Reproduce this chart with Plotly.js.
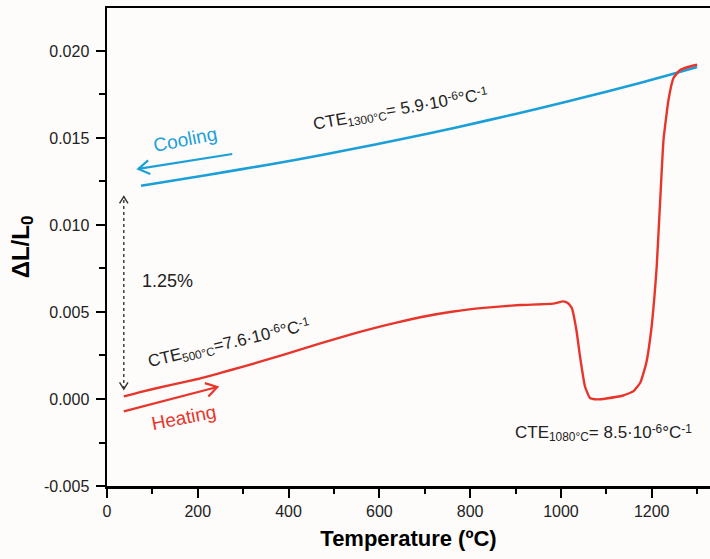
<!DOCTYPE html>
<html>
<head>
<meta charset="utf-8">
<script src="https://cdn.plot.ly/plotly-3.0.1.min.js"></script>
<style>html,body{margin:0;padding:0;background:#fdfcfa;}#chart{width:710px;height:559px;}</style>
</head>
<body>
<div id="chart"></div>
<script>
// ---- data ----
const heatingT = [37, 73, 139, 205, 250, 300, 360, 420, 470, 530, 580, 640, 690, 763, 830, 910, 983, 1005, 1015, 1024, 1034, 1042, 1053, 1064, 1080, 1100, 1137, 1160, 1175, 1188, 1199, 1206, 1211, 1221, 1226, 1237, 1248, 1262, 1280, 1300];
const heatingDL = [0.00015, 0.00040, 0.00080, 0.00118, 0.00150, 0.00186, 0.00232, 0.00279, 0.00320, 0.00366, 0.00402, 0.00440, 0.00470, 0.00503, 0.00524, 0.00540, 0.00548, 0.00561, 0.00552, 0.00523, 0.00398, 0.00245, 0.00072, 0.00006, -0.00002, 0.00003, 0.00020, 0.00045, 0.00095, 0.00207, 0.00398, 0.00590, 0.00760, 0.01260, 0.01490, 0.01720, 0.01845, 0.01889, 0.01908, 0.01921];
const coolingT = [75, 150, 291, 420, 532, 650, 772, 900, 1012, 1100, 1172, 1240, 1300];
const coolingDL = [0.01226, 0.01257, 0.01318, 0.01376, 0.01432, 0.01494, 0.01562, 0.01638, 0.01708, 0.01766, 0.01815, 0.01863, 0.01908];
const xTickVals = [0, 200, 400, 600, 800, 1000, 1200];
const xTickText = ["0", "200", "400", "600", "800", "1000", "1200"];
const yTickVals = [-0.005, 0, 0.005, 0.010, 0.015, 0.020];
const yTickText = ["-0.005", "0.000", "0.005", "0.010", "0.015", "0.020"];
const xTitle = "Temperature (ºC)";
const yTitleMain = "ΔL/L";
const yTitleSub = "0";
const labelCooling = "Cooling";
const labelHeating = "Heating";
const labelGap = "1.25%";
// CTE labels: [main, subscript, value, exponent, unit, unit exponent]
const cte1300 = ["CTE", "1300°C", "= 5.9·10", "-6", "°C", "-1"];
const cte500 = ["CTE", "500°C", "=7.6·10", "-6", "°C", "-1"];
const cte1080 = ["CTE", "1080°C", "= 8.5·10", "-6", "°C", "-1"];

const BLUE = "#1b9fd9";
const RED = "#e8352c";
const TXT = "#222222";
const FONT = "Liberation Sans, Arial, sans-serif";

// sub/superscripts via CSS baseline-shift (no extra zero-width reset spans)
const SUB = "font-size:70%;baseline-shift:-22%";
const SUP = "font-size:70%;baseline-shift:45%";
function cteText(p) {
  return p[0] + '<span style="' + SUB + '">' + p[1] + '</span>' + p[2] +
    '<span style="' + SUP + '">' + p[3] + '</span>' + p[4] +
    '<span style="' + SUP + '">' + p[5] + '</span>';
}

const W = 710, H = 559, M = {l: 107, r: 0, t: 8, b: 73};
const XR = [0, 1328.4], YR = [-0.005, 0.02247];
const pxX = (W - M.l - M.r) / (XR[1] - XR[0]);
const pxY = (H - M.t - M.b) / (YR[1] - YR[0]);

// Chevron arrow built in pixel space and mapped back to data units
function arrowTraces(tail, head, color, width, headLen, both, dash) {
  function chevron(tip, from) {
    const dx = (from[0] - tip[0]) * pxX, dy = (from[1] - tip[1]) * pxY;
    const L = Math.hypot(dx, dy), ux = dx / L, uy = dy / L;
    const a = 32 * Math.PI / 180;
    const pts = [a, -a].map(t => [
      tip[0] + headLen * (ux * Math.cos(t) - uy * Math.sin(t)) / pxX,
      tip[1] + headLen * (ux * Math.sin(t) + uy * Math.cos(t)) / pxY]);
    return {x: [pts[0][0], tip[0], pts[1][0], null], y: [pts[0][1], tip[1], pts[1][1], null]};
  }
  const shaft = {x: [tail[0], head[0]], y: [tail[1], head[1]], mode: "lines",
    line: {color: color, width: width, dash: dash || "solid"}, hoverinfo: "skip", showlegend: false};
  const h1 = chevron(head, tail);
  const hx = h1.x.slice(), hy = h1.y.slice();
  if (both) { const h2 = chevron(tail, head); hx.push(...h2.x); hy.push(...h2.y); }
  const heads = {x: hx, y: hy, mode: "lines", line: {color: color, width: both ? 1.4 : width},
    hoverinfo: "skip", showlegend: false};
  return [shaft, heads];
}

const traces = [
  {x: coolingT, y: coolingDL, mode: "lines", name: "Cooling",
   line: {color: BLUE, width: 2.6, shape: "spline", smoothing: 0.5}, hoverinfo: "skip"},
  {x: heatingT, y: heatingDL, mode: "lines", name: "Heating",
   line: {color: RED, width: 2.4, shape: "spline", smoothing: 0.4}, hoverinfo: "skip"},
  ...arrowTraces([276, 0.01408], [69, 0.01322], BLUE, 2.2, 13, false),
  ...arrowTraces([37, -0.00071], [243, 0.00069], RED, 2.2, 13, false),
  ...arrowTraces([37, 0.00057], [37, 0.01163], "#333333", 1.4, 8, true, "dot")
];

function label(x, y, text, color, size, angle) {
  return {x: x, y: y, xref: "x", yref: "y", text: text, showarrow: false,
          textangle: angle, font: {family: FONT, size: size, color: color},
          xanchor: "center", yanchor: "middle"};
}

const annotations = [
  label(172, 0.01490, labelCooling, BLUE, 19, -11),
  label(170, -0.00104, labelHeating, RED, 19, -11),
  label(133, 0.00680, labelGap, TXT, 18, 0),
  label(646, 0.01668, cteText(cte1300), TXT, 17, -10),
  label(269, 0.00324, cteText(cte500), TXT, 17, -13),
  label(1093, -0.00193, cteText(cte1080), TXT, 17, 0)
];

const layout = {
  width: W, height: H,
  margin: M,
  paper_bgcolor: "#fdfcfa", plot_bgcolor: "#fdfcfa",
  showlegend: false,
  font: {family: FONT, color: TXT, size: 16},
  xaxis: {
    range: XR, showgrid: false, zeroline: false,
    showline: true, linecolor: "#000", linewidth: 2.5, mirror: true,
    ticks: "outside", ticklen: 9, tickwidth: 2, tickcolor: "#000",
    tickmode: "array", tickvals: xTickVals, ticktext: xTickText,
    tickfont: {family: FONT, size: 16, color: TXT},
    minor: {tickmode: "linear", tick0: 0, dtick: 100, ticks: "outside", ticklen: 5, tickwidth: 2, tickcolor: "#000"},
    title: {text: "<b>" + xTitle + "</b>", font: {family: FONT, size: 22, color: "#000"}, standoff: 12}
  },
  yaxis: {
    range: YR, showgrid: false, zeroline: false,
    showline: true, linecolor: "#000", linewidth: 2.5,
    ticks: "outside", ticklen: 9, tickwidth: 2, tickcolor: "#000",
    tickmode: "array", tickvals: yTickVals, ticktext: yTickText,
    ticklabelstandoff: 3,
    tickfont: {family: FONT, size: 16, color: TXT},
    minor: {tickmode: "linear", tick0: 0, dtick: 0.0025, ticks: "outside", ticklen: 6, tickwidth: 2, tickcolor: "#000"},
    title: {text: "<b>" + yTitleMain + '<span style="' + SUB + '">' + yTitleSub + "</span></b>",
            font: {family: FONT, size: 24, color: "#000"}, standoff: 8}
  },
  annotations: annotations
};

Plotly.newPlot("chart", traces, layout, {displayModeBar: false, staticPlot: true});
</script>
</body>
</html>
